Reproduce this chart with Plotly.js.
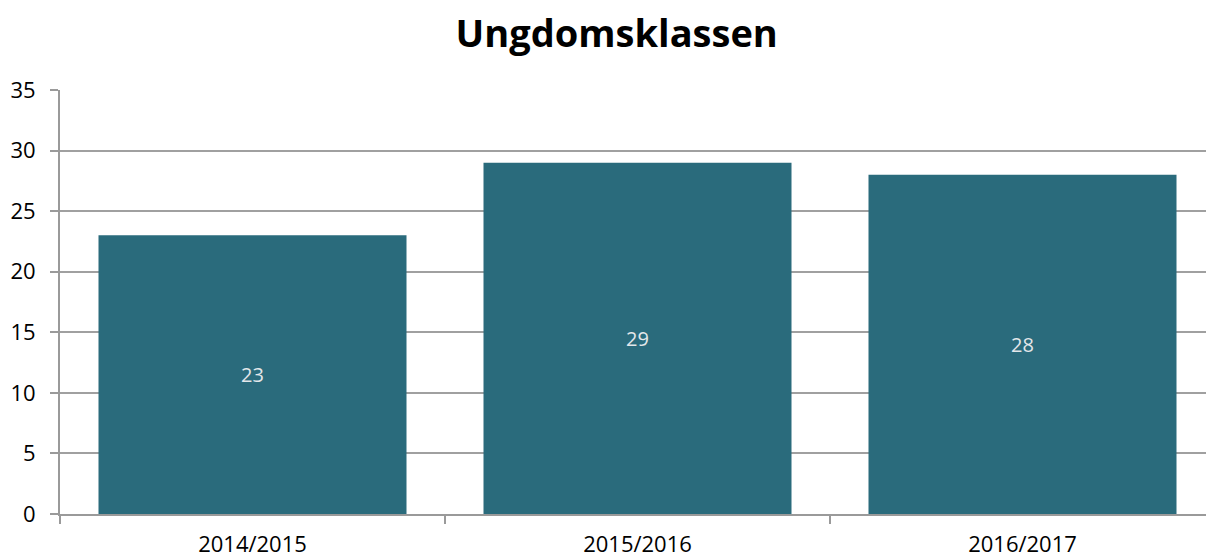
<!DOCTYPE html>
<html>
<head>
<meta charset="utf-8">
<script src="https://cdn.plot.ly/plotly-3.0.1.min.js"></script>
<style>
html,body{margin:0;padding:0;overflow:hidden;background:#fff;}
#chart{width:1216px;height:557px;}
</style>
</head>
<body>
<div id="chart"></div>
<script>
const categories = ["2014/2015", "2015/2016", "2016/2017"];
const values = [23, 29, 28];
const yTicks = [0, 5, 10, 15, 20, 25, 30, 35];

const FONT = "Open Sans, Noto Sans, sans-serif";

const trace = {
  type: "bar",
  x: categories,
  y: values,
  text: values.map(String),
  textposition: "inside",
  insidetextanchor: "middle",
  textangle: 0,
  textfont: {family: FONT, size: 20, color: "#e3e7ea"},
  marker: {color: "#2a6b7c"},
  hoverinfo: "x+y"
};

const layout = {
  width: 1216,
  height: 557,
  margin: {l: 60, r: 1, t: 90, b: 43},
  paper_bgcolor: "#ffffff",
  plot_bgcolor: "#ffffff",
  bargap: 0.2,
  showlegend: false,
  title: {
    text: "<b>Ungdomsklassen</b>",
    font: {family: FONT, size: 38, color: "#000000"},
    x: 0.482, xref: "paper", xanchor: "center",
    y: 0.94, yref: "container", yanchor: "middle"
  },
  xaxis: {
    type: "category",
    showgrid: false,
    showline: true,
    linecolor: "#9a9a9a",
    linewidth: 2,
    ticks: "outside",
    tickson: "boundaries",
    ticklen: 8,
    tickwidth: 2,
    tickcolor: "#9a9a9a",
    tickfont: {family: FONT, size: 22, color: "#000000"},
    ticklabelstandoff: 10,
    zeroline: false
  },
  yaxis: {
    range: [0, 35],
    tickvals: yTicks,
    ticktext: yTicks.map(String),
    showgrid: true,
    gridcolor: "#a0a0a0",
    gridwidth: 2,
    showline: true,
    linecolor: "#9a9a9a",
    linewidth: 2,
    ticks: "outside",
    ticklen: 8,
    tickwidth: 2,
    tickcolor: "#9a9a9a",
    tickfont: {family: FONT, size: 22, color: "#000000"},
    ticklabelstandoff: 10,
    zeroline: false
  }
};

Plotly.newPlot("chart", [trace], layout, {displayModeBar: false, staticPlot: true});
</script>
</body>
</html>
